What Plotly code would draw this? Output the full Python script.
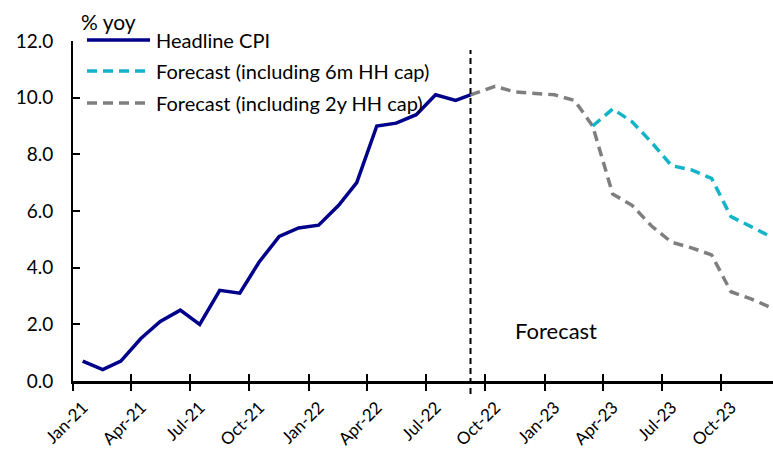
import plotly.graph_objects as go

# Headline CPI, % yoy (monthly, Jan-21 .. Aug-22)
hist_months = ["2021-01", "2021-02", "2021-03", "2021-04", "2021-05", "2021-06",
               "2021-07", "2021-08", "2021-09", "2021-10", "2021-11", "2021-12",
               "2022-01", "2022-02", "2022-03", "2022-04", "2022-05", "2022-06",
               "2022-07", "2022-08"]
hist_values = [0.7, 0.4, 0.7, 1.5, 2.1, 2.5, 2.0, 3.2, 3.1, 4.2, 5.1, 5.4,
               5.5, 6.2, 7.0, 9.0, 9.1, 9.4, 10.1, 9.9]

# forecast start (energy price guarantee announcement)
forecast_start = "2022-09-08"
start_value = 10.1

# Forecast with 2-year household cap: Oct-22 .. Dec-23
fc_months = ["2022-10", "2022-11", "2022-12", "2023-01", "2023-02", "2023-03",
             "2023-04", "2023-05", "2023-06", "2023-07", "2023-08", "2023-09",
             "2023-10", "2023-11", "2023-12"]
fc_2y_values = [10.4, 10.2, 10.15, 10.1, 9.9, 9.0,
                6.6, 6.2, 5.45, 4.9, 4.7, 4.45, 3.15, 2.9, 2.6]

# Forecast with 6-month household cap: Mar-23 .. Dec-23
fc6_months = ["2023-03", "2023-04", "2023-05", "2023-06", "2023-07",
              "2023-08", "2023-09", "2023-10", "2023-11", "2023-12"]
fc_6m_values = [9.0, 9.6, 9.15, 8.4, 7.6, 7.45, 7.15, 5.8, 5.45, 5.1]

tick_dates = ["2021-01-01", "2021-04-01", "2021-07-01", "2021-10-01",
              "2022-01-01", "2022-04-01", "2022-07-01", "2022-10-01",
              "2023-01-01", "2023-04-01", "2023-07-01", "2023-10-01"]
y_ticks = [0, 2, 4, 6, 8, 10, 12]

NAVY = "#00008B"
CYAN = "#13B3C8"
GREY = "#7F7F7F"
FONT = "Lato, Carlito, sans-serif"

def mid(m):
    return m + "-16"

hist_x = [mid(m) for m in hist_months] + [forecast_start]
hist_y = hist_values + [start_value]
fc2_x = [forecast_start] + [mid(m) for m in fc_months]
fc2_y = [start_value] + fc_2y_values
fc6_x = [mid(m) for m in fc6_months]

W, H = 773, 449
ML, MR, MT, MB = 73, 0, 41, 68

fig = go.Figure()
fig.add_trace(go.Scatter(x=fc2_x, y=fc2_y, mode="lines", name="Forecast (including 2y HH cap)",
                         line=dict(color=GREY, width=3.5, dash="10px,6px"), showlegend=False))
fig.add_trace(go.Scatter(x=fc6_x, y=fc_6m_values, mode="lines", name="Forecast (including 6m HH cap)",
                         line=dict(color=CYAN, width=3.5, dash="10px,6px"), showlegend=False))
fig.add_trace(go.Scatter(x=hist_x, y=hist_y, mode="lines", name="Headline CPI",
                         line=dict(color=NAVY, width=3.5), showlegend=False))
# second x axis only to carry the inner half of the cross ticks
fig.add_trace(go.Scatter(x=[hist_x[0]], y=[None], xaxis="x2", showlegend=False, hoverinfo="skip"))

plot_w = W - ML - MR
plot_h = H - MT - MB
def px_x(p):
    return (p - ML) / plot_w
def px_y(p):
    return (H - MB - p) / plot_h

shapes = [dict(type="line", xref="x", yref="paper", x0=forecast_start, x1=forecast_start,
               y0=px_y(394), y1=px_y(50), line=dict(color="black", width=2, dash="6px,4px"))]

legend_items = [("Headline CPI", NAVY, "solid", 40),
                ("Forecast (including 6m HH cap)", CYAN, "10px,6px", 71),
                ("Forecast (including 2y HH cap)", GREY, "10px,6px", 103)]
annotations = []
for label, color, dash, ypx in legend_items:
    shapes.append(dict(type="line", xref="paper", yref="paper", x0=px_x(87), x1=px_x(150),
                       y0=px_y(ypx), y1=px_y(ypx), line=dict(color=color, width=3.5, dash=dash)))
    annotations.append(dict(text=label, xref="paper", yref="paper", x=px_x(154), y=px_y(ypx),
                            xanchor="left", yanchor="middle", showarrow=False,
                            font=dict(size=20, color="black", family=FONT)))

annotations.append(dict(text="% yoy", xref="paper", yref="paper", x=px_x(79), y=px_y(22),
                        xanchor="left", yanchor="middle", showarrow=False,
                        font=dict(size=21, color="black", family=FONT)))
annotations.append(dict(text="Forecast", xref="paper", yref="paper", x=px_x(556), y=px_y(330),
                        xanchor="center", yanchor="middle", showarrow=False,
                        font=dict(size=22, color="black", family=FONT)))

x_range = ["2021-01-01", "2023-12-20"]
fig.update_layout(
    width=W, height=H,
    margin=dict(l=ML, r=MR, t=MT, b=MB, autoexpand=False),
    paper_bgcolor="white", plot_bgcolor="white",
    font=dict(family=FONT, color="black"),
    shapes=shapes, annotations=annotations,
    xaxis=dict(type="date", range=x_range, tickmode="array", tickvals=tick_dates,
               tickformat="%b-%y", tickangle=-45, ticks="outside", ticklen=7, tickwidth=2,
               tickcolor="black", showline=True, linecolor="black", linewidth=2.5,
               showgrid=False, zeroline=False, ticklabelshift=10, ticklabelstandoff=0,
               automargin=False, tickfont=dict(size=17, family=FONT)),
    xaxis2=dict(type="date", range=x_range, overlaying="x", anchor="y", tickmode="array",
                tickvals=tick_dates, ticks="inside", ticklen=7, tickwidth=2, tickcolor="black",
                showticklabels=False, showgrid=False, zeroline=False, showline=False),
    yaxis=dict(range=[0, 12], tickmode="array", tickvals=y_ticks, tickformat=".1f",
               ticks="inside", ticklen=7, tickwidth=2, tickcolor="black",
               showline=True, linecolor="black", linewidth=2, showgrid=False, zeroline=False,
               ticklabelstandoff=14, automargin=False, tickfont=dict(size=19, family=FONT)),
)

fig.write_html("out.html")
